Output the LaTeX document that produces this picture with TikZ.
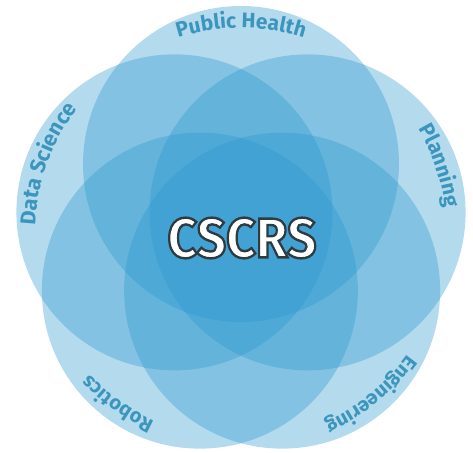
\documentclass[tikz,border=0pt]{standalone}
\usepackage{fontspec}
\setmainfont{Fira Sans}
\usetikzlibrary{decorations.text,calc}
\definecolor{petalblue}{HTML}{2896CD}
\definecolor{labelblue}{HTML}{3B95BD}
\newcommand\rimon{\special{pdf:literal direct 2 Tr 2.4 w 0.18 0.23 0.25 RG}}
\newcommand\rimoff{\special{pdf:literal direct 0 Tr}}
\begin{document}
\begin{tikzpicture}[x=1pt,y=1pt,
  petal/.style={fill=petalblue,fill opacity=0.35},
  toptext/.style={font=\bfseries\fontsize{56}{56}\selectfont,inner sep=0pt,text=white}]
 \useasboundingbox (0,0) rectangle (473,452);
 \coordinate (hub) at (241,218);
 \foreach \a in {90,162,234,306,18}
  \fill[petal] ($(hub)+(\a:70)$) circle[radius=158];
 \path[decorate,decoration={text along path,text align=center,
   text={|\color{labelblue}\bfseries\fontsize{21}{21}\selectfont|Public Health}}]
  ($(hub)+(135:206)$) arc[start angle=135,end angle=45,radius=206];
 \path[decorate,decoration={text along path,text align=center,
   text={|\color{labelblue}\bfseries\fontsize{21.5}{21.5}\selectfont|Data Science}}]
  ($(hub)+(205:206)$) arc[start angle=205,end angle=115,radius=206];
 \path[decorate,decoration={text along path,text align=center,
   text={|\color{labelblue}\bfseries\fontsize{21}{21}\selectfont|Planning}}]
  ($(hub)+(64:206)$) arc[start angle=64,end angle=-26,radius=206];
 \path[decorate,decoration={text along path,text align=center,
   text={|\color{labelblue}\bfseries\fontsize{20}{20}\selectfont|Robotics}}]
  ($(hub)+(279:206)$) arc[start angle=279,end angle=189,radius=206];
 \path[decorate,decoration={text along path,text align=center,
   text={|\color{labelblue}\bfseries\fontsize{20}{20}\selectfont|Engineering}}]
  ($(hub)+(354:206)$) arc[start angle=354,end angle=264,radius=206];
 \node[toptext] (title) at (242,214) {\scalebox{0.92}[1]{\rimon CSCRS\rimoff}};
\end{tikzpicture}
\end{document}
